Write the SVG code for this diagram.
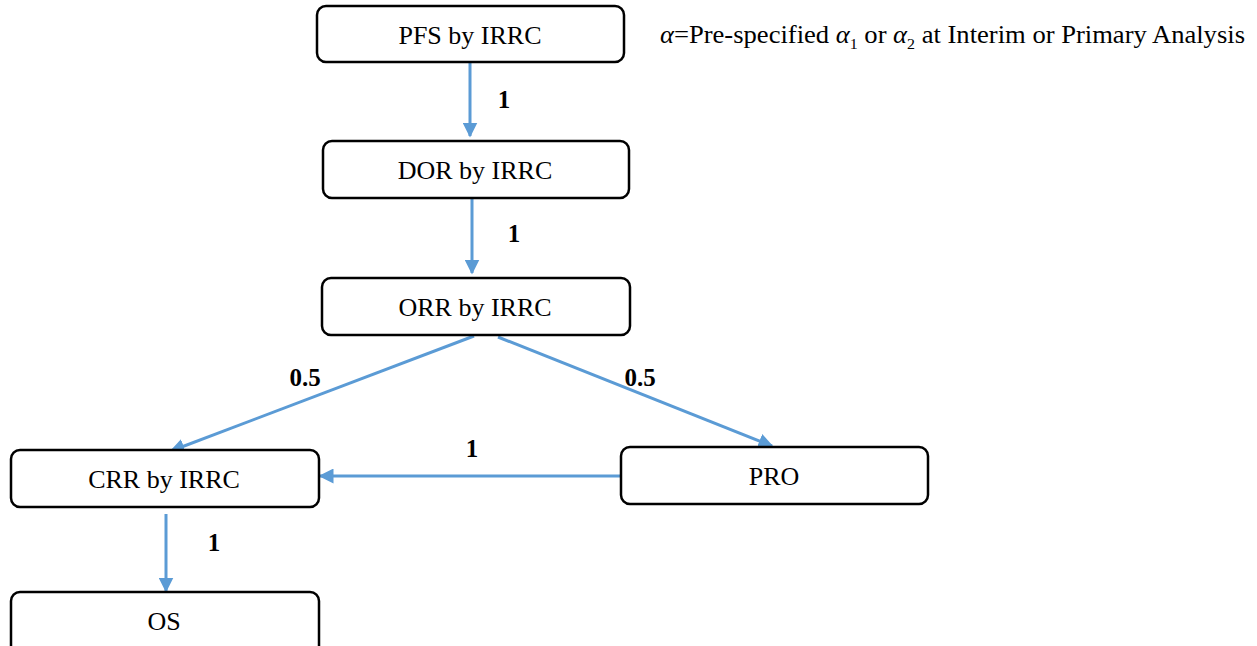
<svg xmlns="http://www.w3.org/2000/svg" width="1257" height="646" viewBox="0 0 1257 646" font-family="'Liberation Serif', 'Times New Roman', serif">
<defs>
<style>
.box{fill:#fff;stroke:#000;stroke-width:2.5}
.t{font-family:'Liberation Serif','Times New Roman',serif;font-size:26px;text-anchor:middle;fill:#000}
.lbl{font-family:'Liberation Serif','Times New Roman',serif;font-size:25px;font-weight:bold;text-anchor:middle;fill:#000}
.c{stroke:#5B9BD5;stroke-width:3;fill:none;marker-end:url(#ah)}
.note{font-family:'Liberation Serif','Times New Roman',serif;font-size:25px;fill:#000}
</style>
<marker id="ah" viewBox="0 0 10 10" refX="9" refY="5" markerWidth="5" markerHeight="5" orient="auto" markerUnits="strokeWidth">
<path d="M0,0 L10,5 L0,10 z" fill="#5B9BD5"/>
</marker>
</defs>
<rect width="1257" height="646" fill="#fff"/>
<g id="connectors">
<line class="c" x1="470" y1="63" x2="470" y2="136"/>
<line class="c" x1="472" y1="198" x2="472" y2="273"/>
<line class="c" x1="474" y1="336" x2="171" y2="451"/>
<line class="c" x1="498" y1="337" x2="772" y2="446"/>
<line class="c" x1="621" y1="476" x2="320" y2="476"/>
<line class="c" x1="166" y1="514" x2="166" y2="591"/>
<text class="lbl" x="504" y="108">1</text>
<text class="lbl" x="514" y="242">1</text>
<text class="lbl" x="305" y="386">0.5</text>
<text class="lbl" x="640" y="386">0.5</text>
<text class="lbl" x="472" y="457">1</text>
<text class="lbl" x="214" y="551">1</text>
</g>
<g id="pfs"><rect class="box" x="317" y="6" width="307" height="56" rx="9"/><text class="t" x="470" y="44">PFS by IRRC</text></g>
<g id="dor"><rect class="box" x="323" y="141" width="306" height="57" rx="9"/><text class="t" x="475" y="179">DOR by IRRC</text></g>
<g id="orr"><rect class="box" x="322" y="278" width="308" height="57" rx="9"/><text class="t" x="475" y="316">ORR by IRRC</text></g>
<g id="crr"><rect class="box" x="11" y="450" width="308" height="57" rx="9"/><text class="t" x="164" y="488">CRR by IRRC</text></g>
<g id="pro"><rect class="box" x="621" y="447" width="307" height="57" rx="9"/><text class="t" x="774" y="485">PRO</text></g>
<g id="os"><rect class="box" x="11" y="592" width="308" height="70" rx="9"/><text class="t" x="164" y="630">OS</text></g>
<g id="note">
<text class="note" x="660" y="43" textLength="585" lengthAdjust="spacingAndGlyphs"><tspan font-style="italic">α</tspan>=Pre-specified <tspan font-style="italic">α</tspan><tspan font-size="15" dy="6">1</tspan><tspan dy="-6"> or </tspan><tspan font-style="italic">α</tspan><tspan font-size="15" dy="6">2</tspan><tspan dy="-6"> at Interim or Primary Analysis</tspan></text>
</g>
</svg>
